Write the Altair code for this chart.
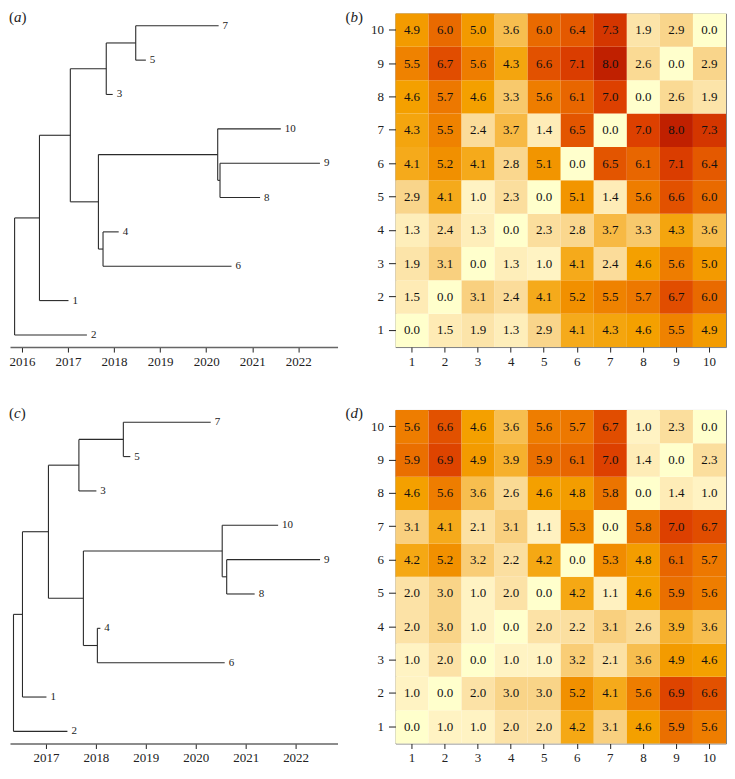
import altair as alt
import pandas as pd

# ---------------- data ----------------
TIPS = ["1", "2", "3", "4", "5", "6", "7", "8", "9", "10"]
TIP_ORDER = ["7", "5", "3", "10", "9", "8", "4", "6", "1", "2"]  # top to bottom
NODES = ["root", "nA", "nB", "nC", "nD", "nE", "nF", "nG", "nH"]
CHILDREN = {
    "root": ["nA", "2"], "nA": ["nB", "1"], "nB": ["nC", "nE"], "nC": ["nD", "3"],
    "nD": ["7", "5"], "nE": ["nF", "nH"], "nF": ["10", "nG"], "nG": ["9", "8"],
    "nH": ["4", "6"],
}
TIP_DATES_A = [2017.01, 2017.41, 2017.97, 2018.10, 2018.69, 2020.55, 2020.27, 2021.17, 2022.47, 2021.62]
NODE_DATES_A = [2015.84, 2016.38, 2017.05, 2017.83, 2018.47, 2017.66, 2020.25, 2020.30, 2017.76]
TIP_DATES_C = [2017.01, 2017.43, 2018.01, 2018.09, 2018.69, 2020.58, 2020.30, 2021.18, 2022.49, 2021.65]
NODE_DATES_C = [2016.35, 2016.53, 2017.05, 2017.66, 2018.55, 2017.75, 2020.53, 2020.62, 2018.03]
YEARS_A = [2016, 2017, 2018, 2019, 2020, 2021, 2022]
YEARS_C = [2017, 2018, 2019, 2020, 2021, 2022]
XDOM_A = [2015.740, 2022.852]
XDOM_C = [2016.28, 2022.84]

IDS = [1, 2, 3, 4, 5, 6, 7, 8, 9, 10]
# rows listed from row 1 (bottom) to row 10 (top); columns 1..10
DIST_B = [
    [0.0, 1.5, 1.9, 1.3, 2.9, 4.1, 4.3, 4.6, 5.5, 4.9],
    [1.5, 0.0, 3.1, 2.4, 4.1, 5.2, 5.5, 5.7, 6.7, 6.0],
    [1.9, 3.1, 0.0, 1.3, 1.0, 4.1, 2.4, 4.6, 5.6, 5.0],
    [1.3, 2.4, 1.3, 0.0, 2.3, 2.8, 3.7, 3.3, 4.3, 3.6],
    [2.9, 4.1, 1.0, 2.3, 0.0, 5.1, 1.4, 5.6, 6.6, 6.0],
    [4.1, 5.2, 4.1, 2.8, 5.1, 0.0, 6.5, 6.1, 7.1, 6.4],
    [4.3, 5.5, 2.4, 3.7, 1.4, 6.5, 0.0, 7.0, 8.0, 7.3],
    [4.6, 5.7, 4.6, 3.3, 5.6, 6.1, 7.0, 0.0, 2.6, 1.9],
    [5.5, 6.7, 5.6, 4.3, 6.6, 7.1, 8.0, 2.6, 0.0, 2.9],
    [4.9, 6.0, 5.0, 3.6, 6.0, 6.4, 7.3, 1.9, 2.9, 0.0],
]
DIST_D = [
    [0.0, 1.0, 1.0, 2.0, 2.0, 4.2, 3.1, 4.6, 5.9, 5.6],
    [1.0, 0.0, 2.0, 3.0, 3.0, 5.2, 4.1, 5.6, 6.9, 6.6],
    [1.0, 2.0, 0.0, 1.0, 1.0, 3.2, 2.1, 3.6, 4.9, 4.6],
    [2.0, 3.0, 1.0, 0.0, 2.0, 2.2, 3.1, 2.6, 3.9, 3.6],
    [2.0, 3.0, 1.0, 2.0, 0.0, 4.2, 1.1, 4.6, 5.9, 5.6],
    [4.2, 5.2, 3.2, 2.2, 4.2, 0.0, 5.3, 4.8, 6.1, 5.7],
    [3.1, 4.1, 2.1, 3.1, 1.1, 5.3, 0.0, 5.8, 7.0, 6.7],
    [4.6, 5.6, 3.6, 2.6, 4.6, 4.8, 5.8, 0.0, 1.4, 1.0],
    [5.9, 6.9, 4.9, 3.9, 5.9, 6.1, 7.0, 1.4, 0.0, 2.3],
    [5.6, 6.6, 4.6, 3.6, 5.6, 5.7, 6.7, 1.0, 2.3, 0.0],
]
COLOR_STOPS = [0, 1, 2, 3, 3.5, 4, 4.5, 5, 5.5, 6, 7, 8]
COLOR_RANGE = ["#FFFFCC", "#FFF3C3", "#FCE2A6", "#F9D488", "#F8C25A", "#F5AC22",
               "#F4A100", "#F39A00", "#EF8200", "#E96A00", "#DD4000", "#C02000"]

FONT = "Liberation Serif"
TW, HW, H = 328, 331, 334


def panel_label(letter, x0, letter_w):
    df = pd.DataFrame({"t": [0]})
    parts = []
    for ch, dx, style in [("(", 0, "normal"), (letter, 5, "italic"), (")", 5 + letter_w, "normal")]:
        parts.append(
            alt.Chart(df).mark_text(text=ch, align="left", baseline="top", font=FONT,
                                    fontSize=15, fontStyle=style, color="#222")
            .encode(x=alt.value(x0 + dx), y=alt.value(-4))
        )
    return parts


def tree_chart(tip_dates, node_dates, xdom, years, letter):
    date = dict(zip(TIPS, tip_dates))
    date.update(zip(NODES, node_dates))
    ypos = {t: len(TIP_ORDER) - i for i, t in enumerate(TIP_ORDER)}

    def gety(n):
        if n not in ypos:
            ys = [gety(c) for c in CHILDREN[n]]
            ypos[n] = sum(ys) / len(ys)
        return ypos[n]

    gety("root")
    rows = []
    for n, ch in CHILDREN.items():
        ys = [ypos[c] for c in ch]
        rows.append(dict(x=date[n], x2=date[n], y=min(ys), y2=max(ys)))
        for c in ch:
            rows.append(dict(x=date[n], x2=date[c], y=ypos[c], y2=ypos[c]))
    segs = pd.DataFrame(rows)
    tipdf = pd.DataFrame({"label": TIPS, "x": tip_dates, "y": [ypos[t] for t in TIPS]})

    xs = alt.Scale(domain=xdom, nice=False, zero=False)
    ys = alt.Scale(domain=[0.647, 10.357], nice=False, zero=False)
    lines = alt.Chart(segs).mark_rule(color="#2b2b2b", strokeWidth=1.1).encode(
        x=alt.X("x:Q", scale=xs, title=None,
                axis=alt.Axis(values=years, format="d", grid=False, tickSize=5,
                              tickColor="#222", domainColor="#666", domainWidth=1.4,
                              labelFont=FONT, labelFontSize=13, labelColor="#222",
                              labelPadding=3, labelFlush=False, labelOverlap=False)),
        x2="x2:Q",
        y=alt.Y("y:Q", scale=ys, axis=None),
        y2="y2:Q",
    )
    labels = alt.Chart(tipdf).mark_text(align="left", baseline="middle", dx=4,
                                        font=FONT, fontSize=11, color="#222").encode(
        x="x:Q", y="y:Q", text="label:N")
    w = 7.5 if letter != "c" else 6.7
    return alt.layer(lines, labels, *panel_label(letter, -1, w)).properties(width=TW, height=H)


def heat_chart(mat, letter):
    recs = []
    for i, row in enumerate(mat):
        for j, v in enumerate(row):
            recs.append(dict(row=IDS[i], col=IDS[j], v=v))
    df = pd.DataFrame(recs)
    base = alt.Chart(df).encode(
        x=alt.X("col:O", sort=IDS, title=None,
                axis=alt.Axis(labelAngle=0, tickSize=5, tickColor="#222", domain=False,
                              labelFont=FONT, labelFontSize=13, labelColor="#222",
                              labelPadding=3)),
        y=alt.Y("row:O", sort="descending", title=None,
                axis=alt.Axis(tickSize=7, tickColor="#222", domain=False,
                              labelFont=FONT, labelFontSize=13, labelColor="#222",
                              labelPadding=5)),
    )
    rect = base.mark_rect().encode(
        color=alt.Color("v:Q", scale=alt.Scale(domain=COLOR_STOPS, range=COLOR_RANGE,
                                               interpolate="rgb"), legend=None))
    txt = base.mark_text(font=FONT, fontSize=13, color="#111").encode(
        text=alt.Text("v:Q", format=".1f"))
    return alt.layer(rect, txt, *panel_label(letter, -50, 7.5)).properties(
        width=HW, height=H,
        view=alt.ViewBackground(stroke="#808080", strokeWidth=1))


chart = alt.concat(
    tree_chart(TIP_DATES_A, NODE_DATES_A, XDOM_A, YEARS_A, "a"),
    heat_chart(DIST_B, "b"),
    tree_chart(TIP_DATES_C, NODE_DATES_C, XDOM_C, YEARS_C, "c"),
    heat_chart(DIST_D, "d"),
    columns=2, bounds="flush", spacing={"row": 63, "column": 58},
).properties(
    padding={"left": 0, "top": 0, "right": 0, "bottom": 0}
).configure(font=FONT).configure_view(stroke="transparent")

chart.save("out.html", embed_options={"renderer": "svg", "actions": False})
